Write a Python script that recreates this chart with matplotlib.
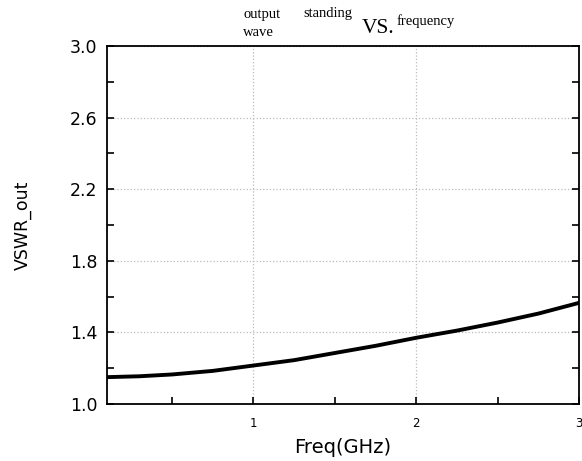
import numpy as np
import matplotlib.pyplot as plt
from matplotlib.ticker import MultipleLocator

# VSWR at the output port vs frequency
freq_ghz = [0.1, 0.3, 0.5, 0.75, 1.0, 1.25, 1.5, 1.75, 2.0, 2.25, 2.5, 2.75, 3.0]
vswr_out = [1.15, 1.155, 1.165, 1.185, 1.215, 1.245, 1.285, 1.325, 1.37, 1.41, 1.455, 1.505, 1.565]

x_ticks = [1, 2, 3]
y_ticks = [1.0, 1.4, 1.8, 2.2, 2.6, 3.0]

fig = plt.figure(figsize=(5.82, 4.61), dpi=100)
ax = fig.add_axes([107 / 582, 1 - 404 / 461, 472 / 582, 358 / 461])

ax.plot(freq_ghz, vswr_out, color="black", linewidth=2.8)

ax.set_xlim(0.1, 3.0)
ax.set_ylim(1.0, 3.0)
ax.set_xticks(x_ticks)
ax.set_xticklabels([str(t) for t in x_ticks])
ax.set_yticks(y_ticks)
ax.set_yticklabels([f"{t:.1f}" for t in y_ticks])
ax.xaxis.set_minor_locator(MultipleLocator(0.5))
ax.yaxis.set_minor_locator(MultipleLocator(0.2))

ax.tick_params(which="both", direction="in", right=True, top=False, width=1.2, length=5)
ax.tick_params(axis="y", labelsize=12.5, pad=7, colors="black")
ax.tick_params(axis="x", labelsize=8.5, pad=9)

ax.grid(True, which="major", linestyle=":", color="#bbbbbb", linewidth=0.9)
for s in ax.spines.values():
    s.set_linewidth(1.3)

ax.set_xlabel("Freq(GHz)", fontsize=14, labelpad=6)
ax.set_ylabel("VSWR_out", fontsize=12.5, labelpad=27)

# title made of loose pieces of serif text
serif = "Liberation Serif"
fig.text(243 / 582, 1 - 18 / 461, "output", fontsize=10.5, family=serif)
fig.text(243 / 582, 1 - 36 / 461, "wave", fontsize=10.5, family=serif)
fig.text(303 / 582, 1 - 17 / 461, "standing", fontsize=10.5, family=serif)
fig.text(362 / 582, 1 - 33 / 461, "VS.", fontsize=15.5, family=serif)
fig.text(397 / 582, 1 - 25 / 461, "frequency", fontsize=10.5, family=serif)

fig.savefig("out.png", dpi=100)
